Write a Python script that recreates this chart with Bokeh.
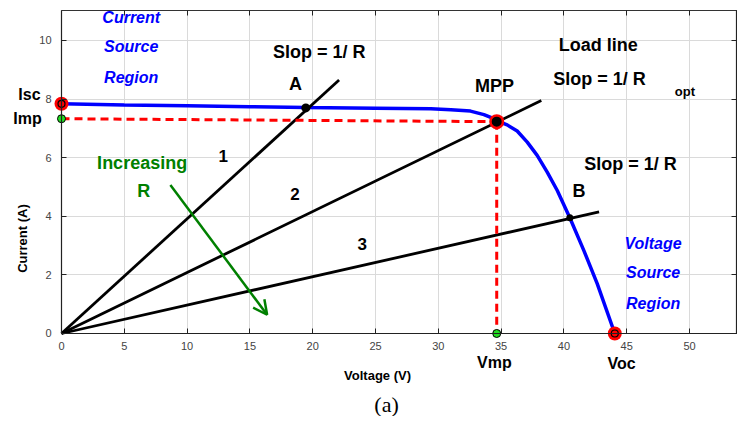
import math
from bokeh.plotting import figure
from bokeh.models import LinearAxis, SingleIntervalTicker, Label, Arrow, OpenHead
from bokeh.embed import file_html
from bokeh.resources import INLINE

# ---- data ----
iv_voltage = [0, 5, 10, 15, 19.45, 25, 29.4, 31.0, 32.56, 33.63, 34.42, 34.69, 35.48,
              36.28, 37.08, 37.87, 38.67, 39.47, 40.47, 41.59, 42.65, 44.05]
iv_current = [7.84, 7.80, 7.77, 7.74, 7.71, 7.69, 7.67, 7.64, 7.59, 7.47, 7.33, 7.26, 7.12,
              6.91, 6.53, 6.08, 5.51, 4.88, 3.95, 2.83, 1.70, 0.0]

load_line_names = ["1", "2", "3"]
load_line_end_v = [22.1, 38.2, 42.8]
load_line_end_i = [8.65, 7.95, 4.15]

isc = 7.84
imp_left = 7.33
vmp = 34.65
imp = 7.23
voc = 44.05
point_a = (19.45, 7.70)
point_b = (40.47, 3.95)

arrow_start = (8.67, 5.07)
arrow_end = (16.37, 0.64)

x_ticks_interval = 5
y_ticks_interval = 2
x_max = 53.82      # right edge of the plotting box
y_max = 11.02      # top edge of the plotting box

FONT = "Liberation Sans"
BLUE = "#0000ff"
GREEN = "#008000"
RED = "#ff0000"

# one canvas-wide frame; the axes sit at fixed data locations inside it
p = figure(width=737, height=416, x_range=(-4.857, 53.82), y_range=(-2.833, 11.365),
           output_backend="svg", toolbar_location=None,
           min_border_left=0, min_border_right=0, min_border_top=0, min_border_bottom=0,
           x_axis_location=None, y_axis_location=None)
p.outline_line_color = None
p.background_fill_color = "white"
p.border_fill_color = "white"

def style_axis(ax, show_labels, standoff=8):
    ax.major_tick_in = 5
    ax.major_tick_out = 0
    ax.minor_tick_in = 0
    ax.minor_tick_out = 0
    ax.axis_line_color = "#222222"
    ax.axis_line_width = 1.2
    ax.major_tick_line_color = "#222222"
    ax.major_label_text_font = FONT
    ax.major_label_text_color = "#444444"
    if show_labels:
        ax.major_label_text_font_size = "11px"
        ax.major_label_standoff = standoff
    else:
        ax.major_label_text_font_size = "0px"
        ax.major_label_standoff = 0

xb = LinearAxis(ticker=SingleIntervalTicker(interval=x_ticks_interval),
                fixed_location=0, bounds=(0, x_max))
style_axis(xb, True, 9)
p.add_layout(xb, "below")
xt = LinearAxis(ticker=SingleIntervalTicker(interval=x_ticks_interval),
                fixed_location=y_max, bounds=(0, x_max))
style_axis(xt, False)
xt.axis_line_color = "#333333"
p.add_layout(xt, "above")
yl = LinearAxis(ticker=SingleIntervalTicker(interval=y_ticks_interval),
                fixed_location=0, bounds=(0, y_max))
style_axis(yl, True, 10)
p.add_layout(yl, "left")
yr = LinearAxis(ticker=SingleIntervalTicker(interval=y_ticks_interval),
                fixed_location=x_max - 0.05, bounds=(0, y_max))
style_axis(yr, False)
p.add_layout(yr, "right")

p.xgrid.ticker = SingleIntervalTicker(interval=x_ticks_interval)
p.ygrid.ticker = SingleIntervalTicker(interval=y_ticks_interval)
p.xgrid.bounds = (0, x_max)
p.xgrid.cross_bounds = (0, y_max)
p.ygrid.bounds = (0, y_max)
p.ygrid.cross_bounds = (0, x_max)
p.grid.grid_line_color = "#dadada"
p.grid.grid_line_width = 1

# I-V curve
p.line(iv_voltage, iv_current, line_color=BLUE, line_width=3.5)

# load lines
for ev, ei in zip(load_line_end_v, load_line_end_i):
    p.line([0, ev], [0, ei], line_color="black", line_width=2.8)

# dashed MPP projections
p.line([0, vmp], [imp_left, imp], line_color=RED, line_width=3, line_dash="8 5")
p.line([vmp, vmp], [imp, 0], line_color=RED, line_width=3, line_dash="8 5")

# arrow
p.add_layout(Arrow(end=OpenHead(size=14, line_color=GREEN, line_width=2.5),
                   x_start=arrow_start[0], y_start=arrow_start[1],
                   x_end=arrow_end[0], y_end=arrow_end[1],
                   line_color=GREEN, line_width=2.5))

# markers
p.scatter([0, voc], [isc, 0], size=14, fill_color=RED, line_color=None)
p.scatter([0, voc], [isc, 0], size=7, fill_color=RED, line_color="black", line_width=1.2)
p.scatter([0, vmp], [imp_left, 0], size=8, fill_color="#22dd22", line_color="black", line_width=1)
p.scatter([vmp], [imp], size=15, fill_color=RED, line_color=None)
p.scatter([vmp], [imp], size=10, fill_color="black", line_color=None)
p.scatter([point_a[0]], [point_a[1]], size=9, fill_color="black", line_color=None)
p.scatter([point_b[0]], [point_b[1]], size=7, fill_color="black", line_color=None)

def lab(x, y, text, size="18px", color="black", style="bold", font=FONT, angle=0):
    p.add_layout(Label(x=x, y=y, text=text, text_font=font, text_font_size=size,
                       text_color=color, text_font_style=style, text_align="center",
                       text_baseline="middle", angle=angle))

# region labels
lab(5.55, 10.8, "Current", "16px", BLUE, "bold italic")
lab(5.55, 9.81, "Source", "16px", BLUE, "bold italic")
lab(5.55, 8.75, "Region", "16px", BLUE, "bold italic")
lab(47.1, 3.06, "Voltage", "16px", BLUE, "bold italic")
lab(47.1, 2.09, "Source", "16px", BLUE, "bold italic")
lab(47.1, 1.03, "Region", "16px", BLUE, "bold italic")

# annotations
lab(20.52, 9.60, "Slop = 1/ R")
lab(18.63, 8.52, "A")
lab(42.73, 9.83, "Load line")
lab(42.83, 8.67, "Slop = 1/ R")
lab(49.63, 8.27, "opt", "13px")
lab(34.47, 8.43, "MPP")
lab(45.3, 5.77, "Slop = 1/ R")
lab(41.2, 4.86, "B")
lab(12.87, 6.07, load_line_names[0], "17px")
lab(18.58, 4.77, load_line_names[1], "17px")
lab(23.94, 3.06, load_line_names[2], "17px")
lab(6.42, 5.83, "Increasing", "18px", GREEN)
lab(6.55, 4.85, "R", "18px", GREEN)

# labels around the plotting box
lab(-2.55, 8.16, "Isc", "16px")
lab(-2.71, 7.34, "Imp", "16px")
lab(34.47, -0.99, "Vmp", "16px")
lab(44.59, -1.02, "Voc", "16px")
lab(25.16, -1.43, "Voltage (V)", "13px")
lab(-3.11, 3.24, "Current (A)", "13px", angle=math.pi / 2)
lab(25.88, -2.42, "(a)", "22px", "black", "normal", "Liberation Serif")

open("out.html", "w").write(file_html(p, INLINE))
